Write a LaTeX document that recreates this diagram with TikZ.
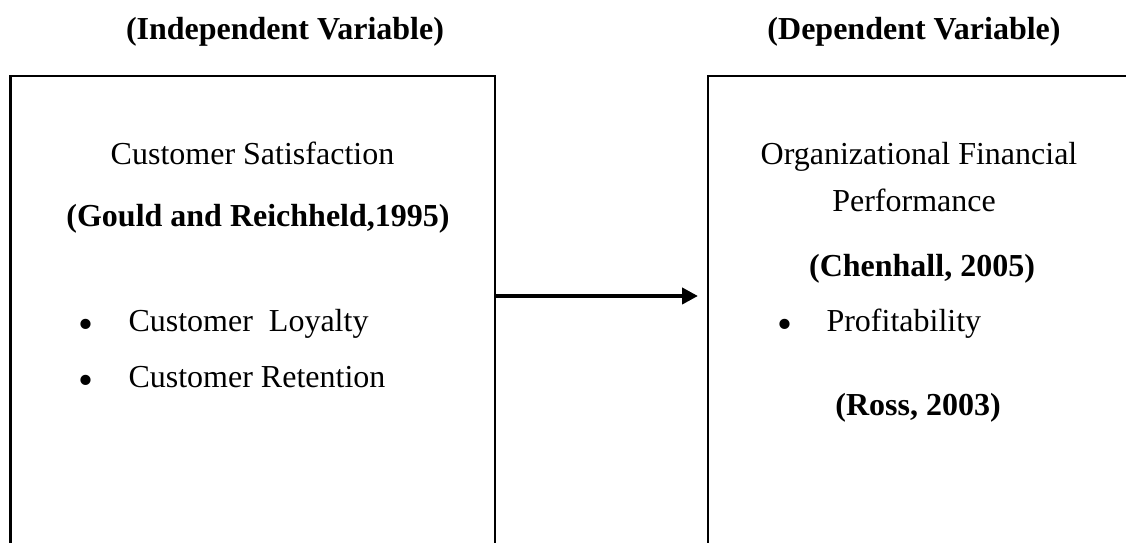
\documentclass[tikz,border=0pt]{standalone}
\usepackage{fontspec}
\setmainfont{Liberation Serif}
\usetikzlibrary{arrows.meta}

\begin{document}
\begin{tikzpicture}[x=0.375pt, y=-0.375pt,
    normtext/.style = {anchor=base, inner sep=0pt, font=\fontsize{12}{14}\selectfont},
    boldtext/.style = {normtext, font=\fontsize{12}{14}\selectfont\bfseries},
    bulletmark/.style = {normtext, font=\fontsize{16}{16}\selectfont},
    varbox/.style = {draw, line width=1pt, inner sep=0pt, minimum width=#1, minimum height=225pt}]

      \useasboundingbox (0,0) rectangle (1126,543);
      \clip (0,0) rectangle (1126,543);

      \node[boldtext] (ivtitle) at (285,40) {(Independent Variable)};
      \node[boldtext] (dvtitle) at (914,40) {(Dependent Variable)};

      \node[varbox=181.7pt] (ivbox) at (252.75,376) {};
      \node[varbox=184.5pt] (dvbox) at (954,376) {};

      \node[normtext] (cs) at (252.5,165) {Customer Satisfaction};
      \node[boldtext] (gould) at (258,227) {(Gould and Reichheld,1995)};
      \node[bulletmark] (b1) at (86,339) {\textbullet};
      \node[normtext, anchor=base west] (loyal) at (128,332) {Customer\ \ Loyalty};
      \node[bulletmark] (b2) at (86,395) {\textbullet};
      \node[normtext, anchor=base west] (retain) at (128,388) {Customer Retention};

      \node[normtext] (ofp1) at (919,165) {Organizational Financial};
      \node[normtext] (ofp2) at (914,212) {Performance};
      \node[boldtext] (chenhall) at (922,277) {(Chenhall, 2005)};
      \node[bulletmark] (b3) at (785,339) {\textbullet};
      \node[normtext, anchor=base west] (profit) at (826,332) {Profitability};
      \node[boldtext] (ross) at (918,416) {(Ross, 2003)};

      \coordinate (tip) at (698,296);
      \draw[line width=1.6pt, -{Triangle[length=6pt, width=6pt]}] (ivbox.east |- tip) -- (tip);

    \end{tikzpicture}
\end{document}
